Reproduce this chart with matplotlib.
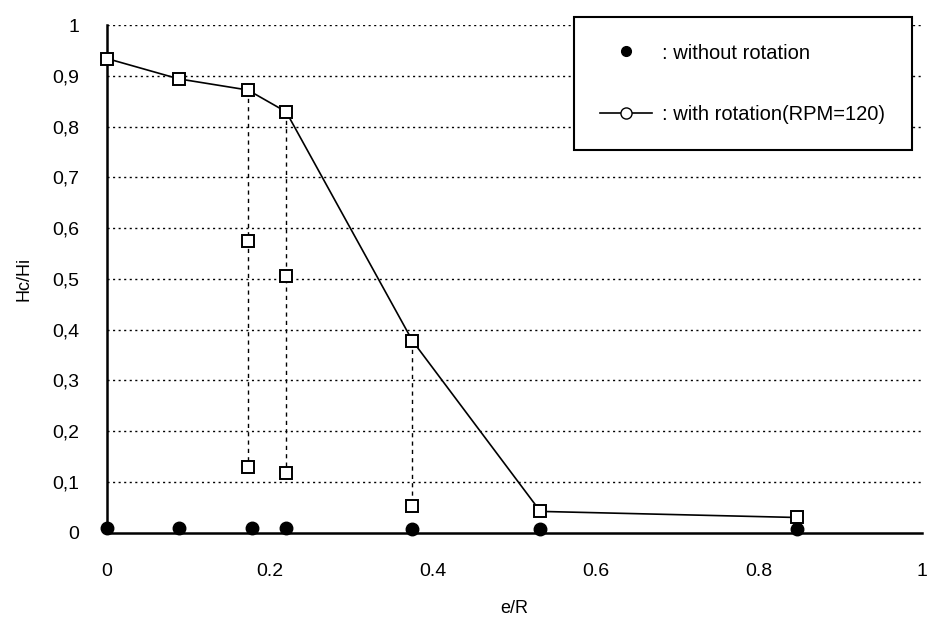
import numpy as np
import matplotlib.pyplot as plt
from matplotlib.lines import Line2D

# with rotation (RPM=120), main curve
x_rot = [0.0, 0.088, 0.173, 0.22, 0.375, 0.532, 0.847]
y_rot = [0.934, 0.894, 0.872, 0.829, 0.378, 0.042, 0.030]

# extra measured points below the curve (dashed drops)
x_drop = [0.173, 0.22, 0.375]
y_drop_mid = [0.575, 0.506, None]
y_drop_low = [0.129, 0.117, 0.053]

# without rotation
x_norot = [0.0, 0.088, 0.178, 0.22, 0.375, 0.532, 0.847]
y_norot = [0.01, 0.01, 0.01, 0.01, 0.008, 0.008, 0.008]

yticks = np.round(np.arange(0, 1.01, 0.1), 1)
ytick_labels = ['0', '0,1', '0,2', '0,3', '0,4', '0,5', '0,6', '0,7', '0,8', '0,9', '1']
xticks = [0, 0.2, 0.4, 0.6, 0.8, 1]
xtick_labels = ['0', '0.2', '0.4', '0.6', '0.8', '1']

plt.rcParams['font.family'] = ['Liberation Sans', 'DejaVu Sans']

fig = plt.figure(figsize=(9.3, 6.26), dpi=100)
ax = fig.add_axes([0.115, 0.149, 0.876, 0.811])

# horizontal dotted grid
for yv in yticks[1:]:
    ax.axhline(yv, color='black', lw=1.0, ls=(0, (1.5, 2.5)), zorder=1)

# dashed drop lines with extra markers
for xd, top, mid, low in zip(x_drop, y_rot[2:5], y_drop_mid, y_drop_low):
    ax.plot([xd, xd], [top, low], color='black', lw=1.0, ls=(0, (3, 3)), zorder=2)
    pts = [p for p in (mid, low) if p is not None]
    ax.plot([xd] * len(pts), pts, ls='none', marker='s', ms=9, mfc='white',
            mec='black', mew=1.4, zorder=4)

ax.plot(x_rot, y_rot, color='black', lw=1.2, marker='s', ms=9, mfc='white',
        mec='black', mew=1.4, zorder=3, clip_on=False)
ax.plot(x_norot, y_norot, ls='none', marker='o', ms=9, color='black', zorder=5,
        clip_on=False)

ax.set_xlim(0, 1)
ax.set_ylim(0, 1)
ax.set_xticks(xticks)
ax.set_xticklabels(xtick_labels)
ax.set_yticks(yticks)
ax.set_yticklabels(ytick_labels)
ax.tick_params(length=0, labelsize=14)
ax.tick_params(axis='x', pad=22)
ax.tick_params(axis='y', pad=20)
for s in ['top', 'right']:
    ax.spines[s].set_visible(False)
ax.spines['left'].set_linewidth(1.8)
ax.spines['bottom'].set_linewidth(1.8)
ax.set_xlabel('e/R', fontsize=13, labelpad=14)
ax.set_ylabel('Hc/Hi', fontsize=13, labelpad=14)

handles = [
    Line2D([], [], ls='none', marker='o', ms=7, color='black'),
    Line2D([], [], color='black', lw=1.2, marker='o', ms=8, mfc='white', mec='black'),
]
leg = ax.legend(handles, [': without rotation', ': with rotation(RPM=120)'],
                loc='upper right', bbox_to_anchor=(1.0, 1.035), fontsize=14.5,
                fancybox=False, framealpha=1, edgecolor='black',
                borderpad=1.3, labelspacing=2.1, handlelength=2.6, handletextpad=0.5)
leg.get_frame().set_linewidth(1.5)

fig.savefig('out.png', dpi=100)
